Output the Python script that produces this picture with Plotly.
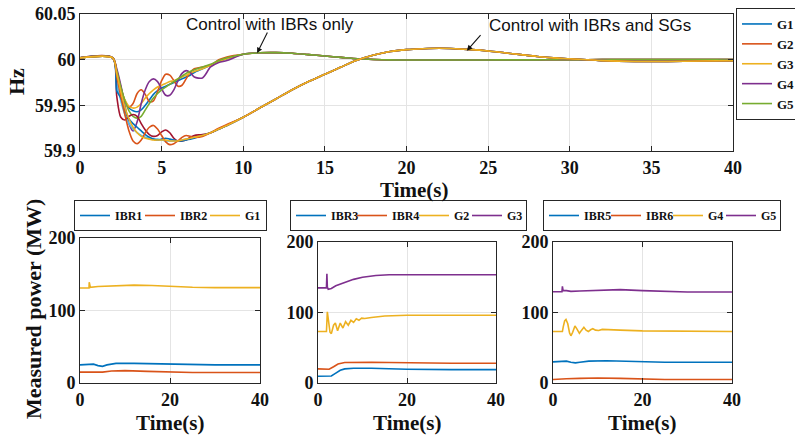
import plotly.graph_objects as go

W, H = 795, 435

# MATLAB-style default colour order
C_BLUE, C_ORANGE, C_YELLOW = "#0072BD", "#D95319", "#EDB120"
C_PURPLE, C_GREEN, C_LBLUE, C_DRED = "#7E2F8E", "#77AC30", "#4DBEEE", "#A2142F"

# ---------------- frequency (Hz) ----------------
t_trans = [0, 2.0, 2.25, 2.5, 2.75, 3.0, 3.25, 3.5, 3.75, 4.0, 4.25, 4.5, 4.75,
           5.0, 5.25, 5.5, 5.75, 6.0, 6.25, 6.5, 6.75, 7.0, 7.5, 8.0, 8.5, 9.0]
t_tail = [10, 11, 12, 13, 14, 15, 16, 17, 18, 19, 20, 21, 22, 23, 24, 25, 26,
          27, 28, 29, 30, 32, 34, 36, 38, 40]

# Control with IBRs only
ibr_g1 = [60.002, 60.002, 59.985, 59.968, 59.955, 59.947, 59.944, 59.943, 59.945, 59.95, 59.956, 59.962, 59.966,
          59.969, 59.971, 59.973, 59.975, 59.977, 59.979, 59.981, 59.983, 59.986, 59.99, 59.994, 59.998, 60.001]
ibr_g2 = [60.002, 60.002, 59.988, 59.97, 59.955, 59.948, 59.952, 59.963, 59.967, 59.962, 59.954, 59.955, 59.965,
          59.977, 59.984, 59.983, 59.977, 59.971, 59.972, 59.979, 59.986, 59.99, 59.992, 59.994, 60.0, 60.003]
ibr_g3 = [60.002, 60.002, 59.985, 59.968, 59.956, 59.949, 59.947, 59.948, 59.952, 59.958, 59.963, 59.967, 59.970,
          59.972, 59.974, 59.976, 59.977, 59.979, 59.981, 59.983, 59.985, 59.987, 59.99, 59.994, 59.998, 60.001]
ibr_g4 = [60.002, 60.002, 59.99, 59.972, 59.95, 59.93, 59.922, 59.932, 59.952, 59.967, 59.976, 59.979, 59.976,
          59.968, 59.961, 59.961, 59.967, 59.977, 59.985, 59.988, 59.986, 59.981, 59.980, 59.992, 59.997, 59.999]
ibr_g5 = [60.002, 60.002, 59.988, 59.97, 59.955, 59.944, 59.938, 59.936, 59.938, 59.945, 59.952, 59.958, 59.963,
          59.967, 59.970, 59.973, 59.976, 59.979, 59.982, 59.985, 59.987, 59.989, 59.992, 59.995, 59.999, 60.002]
ibr_tail = [60.006, 60.0075, 60.0077, 60.007, 60.0055, 60.004, 60.0025, 60.001, 60.0002, 59.9998, 59.9996, 59.9996,
            59.9996, 59.9996, 59.9997, 59.9997, 59.9998, 59.9998, 59.9998, 59.9999, 59.9999, 60.0, 60.0, 60.0, 60.0, 60.0]

# Control with IBRs and SGs
sg_c1 = [60.002, 60.002, 59.975, 59.955, 59.94, 59.93, 59.924, 59.92, 59.917, 59.915, 59.914, 59.913, 59.913,
         59.912, 59.911, 59.911, 59.911, 59.911, 59.912, 59.913, 59.914, 59.915, 59.917, 59.92, 59.924, 59.928]
sg_c2 = [60.002, 60.002, 59.96, 59.937, 59.934, 59.938, 59.94, 59.938, 59.93, 59.923, 59.918, 59.916, 59.917,
         59.921, 59.923, 59.92, 59.914, 59.911, 59.911, 59.912, 59.915, 59.917, 59.918, 59.92, 59.924, 59.928]
sg_c3 = [60.002, 60.002, 59.966, 59.958, 59.945, 59.935, 59.93, 59.926, 59.922, 59.918, 59.915, 59.913, 59.912,
         59.913, 59.914, 59.913, 59.912, 59.911, 59.911, 59.912, 59.913, 59.914, 59.917, 59.92, 59.924, 59.928]
sg_c4 = [60.002, 60.002, 59.982, 59.96, 59.94, 59.922, 59.911, 59.908, 59.912, 59.92, 59.926, 59.928, 59.924,
         59.917, 59.91, 59.907, 59.908, 59.911, 59.915, 59.917, 59.916, 59.915, 59.916, 59.92, 59.925, 59.929]
sg_c5 = [60.002, 60.002, 59.985, 59.965, 59.948, 59.935, 59.926, 59.92, 59.916, 59.914, 59.913, 59.912, 59.912,
         59.912, 59.912, 59.911, 59.911, 59.911, 59.912, 59.913, 59.914, 59.915, 59.917, 59.92, 59.924, 59.928]
sg_tail = [59.937, 59.947, 59.957, 59.967, 59.976, 59.984, 59.992, 59.9995, 60.005, 60.009, 60.011, 60.012, 60.0125,
           60.012, 60.011, 60.0095, 60.0075, 60.0055, 60.0035, 60.002, 60.001, 59.999, 59.998, 59.998, 59.9985, 59.999]

# ---------------- measured power (MW) ----------------
p1_t_ibr1 = [0, 2, 3, 4, 5, 6, 8, 12, 16, 20, 25, 30, 40]
p1_ibr1 = [25, 25, 26, 24, 23, 25, 27, 27, 26.5, 25.5, 25, 25, 25]
p1_t_ibr2 = [0, 2, 3, 4, 5, 7, 10, 15, 20, 25, 40]
p1_ibr2 = [15, 15, 16, 15.5, 15, 16.5, 17, 16, 15, 14.5, 14.5]
p1_t_g1 = [0, 2.0, 2.05, 2.15, 2.3, 4, 8, 12, 16, 20, 25, 30, 40]
p1_g1 = [131, 131, 139, 132, 132, 133, 134.5, 135, 134.5, 133, 132, 131.5, 131.5]

p2_t_ibr3 = [0, 2, 3, 4, 5, 6, 8, 12, 16, 20, 30, 40]
p2_ibr3 = [9.5, 9.5, 10, 14, 18, 20, 21, 21, 20, 19.5, 19, 19]
p2_t_ibr4 = [0, 2, 2.5, 3.5, 4.5, 6, 8, 12, 16, 20, 30, 40]
p2_ibr4 = [20, 20, 19.5, 23, 27, 29, 29.5, 29.5, 29, 28.5, 28, 28]
p2_t_g2 = [0, 1.9, 2.1, 2.4, 2.7, 3.0, 3.5, 3.9, 4.4, 5.0, 5.6, 6.2, 6.8, 7.4, 8.0, 8.6, 9.2, 9.8, 10.5, 12, 15, 20, 30, 40]
p2_g2 = [73, 73, 101, 85, 72, 70, 82, 85, 74, 85, 78, 87, 82, 89, 86, 91, 89, 92, 91.5, 93, 95, 96, 96, 96]
p2_t_g3 = [0, 1.9, 2.0, 2.1, 2.3, 3, 4, 6, 8, 10, 13, 16, 20, 30, 40]
p2_g3 = [135, 135, 155, 136, 133, 134, 138, 143, 147, 150, 152.5, 153.5, 153.5, 153.5, 153.5]

p3_t_ibr5 = [0, 2, 3, 4, 5, 6, 8, 12, 16, 20, 25, 40]
p3_ibr5 = [30, 30, 31, 29.5, 28.5, 29.5, 31, 31.5, 31, 30, 29.5, 29.5]
p3_t_ibr6 = [0, 2, 3, 6, 10, 15, 20, 25, 40]
p3_ibr6 = [5, 5, 6, 6.5, 7, 6.5, 5.5, 5, 5]
p3_t_g4 = [0, 2.1, 2.3, 2.6, 2.9, 3.3, 3.7, 4.0, 4.4, 4.9, 5.4, 5.9, 6.4, 6.9, 7.4, 7.9, 8.4, 8.9, 9.5, 10.2, 11, 12, 15, 20, 30, 40]
p3_g4 = [73, 73, 80, 88, 90, 84, 71, 67, 72, 81, 76, 70.5, 75, 79, 75, 73, 75.5, 77, 75, 74.5, 76, 75.5, 75, 74, 73, 73]
p3_t_g5 = [0, 2.0, 2.1, 2.25, 3, 4, 6, 10, 15, 20, 25, 30, 40]
p3_g5 = [129.5, 129.5, 137, 131, 131, 130, 130.5, 131.5, 132.5, 131, 130, 129, 129]

SERIF = "Liberation Serif"
SANS = "Liberation Sans"
AX = "#262626"

fig = go.Figure()

t_full = t_trans + t_tail
ibr_sets = [("G1", ibr_g1, C_BLUE), ("G2", ibr_g2, C_ORANGE), ("G3", ibr_g3, C_YELLOW),
            ("G4", ibr_g4, C_PURPLE), ("G5", ibr_g5, C_GREEN)]
for name, vals, col in ibr_sets:
    fig.add_trace(go.Scatter(x=t_full, y=vals + ibr_tail, name=name, mode="lines",
                             line=dict(color=col, width=1.6, shape="spline", smoothing=0.8),
                             xaxis="x", yaxis="y", legend="legend"))

sg_sets = [(sg_c1, C_LBLUE), (sg_c2, C_DRED), (sg_c3, C_BLUE), (sg_c4, C_ORANGE), (sg_c5, C_YELLOW)]
for vals, col in sg_sets:
    fig.add_trace(go.Scatter(x=t_full, y=vals + sg_tail, mode="lines", showlegend=False,
                             line=dict(color=col, width=1.6, shape="spline", smoothing=0.8),
                             xaxis="x", yaxis="y"))

# (name, time, values, colour, legend entry width)
panels = [
    ("x2", "y2", "legend2", [("IBR1", p1_t_ibr1, p1_ibr1, C_BLUE, 20), ("IBR2", p1_t_ibr2, p1_ibr2, C_ORANGE, 20),
                             ("G1", p1_t_g1, p1_g1, C_YELLOW, 16)]),
    ("x3", "y3", "legend3", [("IBR3", p2_t_ibr3, p2_ibr3, C_BLUE, 16), ("IBR4", p2_t_ibr4, p2_ibr4, C_ORANGE, 17),
                             ("G2", p2_t_g2, p2_g2, C_YELLOW, 8), ("G3", p2_t_g3, p2_g3, C_PURPLE, 14)]),
    ("x4", "y4", "legend4", [("IBR5", p3_t_ibr5, p3_ibr5, C_BLUE, 17), ("IBR6", p3_t_ibr6, p3_ibr6, C_ORANGE, 17),
                             ("G4", p3_t_g4, p3_g4, C_YELLOW, 8), ("G5", p3_t_g5, p3_g5, C_PURPLE, 14)]),
]
for xa, ya, lg, series in panels:
    for name, tt, vv, col, lw in series:
        fig.add_trace(go.Scatter(x=tt, y=vv, name=name, mode="lines",
                                 line=dict(color=col, width=1.6), legendwidth=lw,
                                 xaxis=xa, yaxis=ya, legend=lg))


def px_x(p):
    return p / W


def px_y(p):
    return 1 - p / H


def axis(domain, rng, tickvals, ticktext, anchor, size=18):
    return dict(domain=domain, range=rng, tickvals=tickvals, ticktext=ticktext, anchor=anchor,
                automargin=False,
                showline=True, mirror="allticks", linecolor=AX, linewidth=1,
                ticks="inside", ticklen=5, tickcolor=AX, tickwidth=1,
                showgrid=True, gridcolor="#e4e4e4", gridwidth=1, zeroline=False,
                tickfont=dict(family=SERIF, size=size, color="#111111", weight="bold"))


x_ticks_top = [0, 5, 10, 15, 20, 25, 30, 35, 40]
layout = dict(
    width=W, height=H, margin=dict(l=0, r=0, t=0, b=0, autoexpand=False),
    paper_bgcolor="white", plot_bgcolor="white", showlegend=True,
    xaxis=axis([px_x(80), px_x(733)], [0, 40], x_ticks_top, [str(v) for v in x_ticks_top], "y"),
    yaxis=axis([px_y(151), px_y(14)], [59.9, 60.05], [59.9, 59.95, 60, 60.05],
               ["59.9", "59.95", "60", "60.05"], "x"),
    xaxis2=axis([px_x(80), px_x(260)], [0, 40], [0, 20, 40], ["0", "20", "40"], "y2"),
    yaxis2=axis([px_y(383), px_y(238)], [0, 200], [0, 100, 200], ["0", "100", "200"], "x2"),
    xaxis3=axis([px_x(318), px_x(496)], [0, 40], [0, 20, 40], ["0", "20", "40"], "y3"),
    yaxis3=axis([px_y(383), px_y(242)], [0, 200], [0, 100, 200], ["0", "100", "200"], "x3"),
    xaxis4=axis([px_x(553), px_x(732)], [0, 40], [0, 20, 40], ["0", "20", "40"], "y4"),
    yaxis4=axis([px_y(383), px_y(242)], [0, 200], [0, 100, 200], ["0", "100", "200"], "x4"),
    legend=dict(xref="container", yref="container", x=px_x(736), y=px_y(8),
                xanchor="left", yanchor="top", orientation="v",
                bgcolor="white", bordercolor=AX, borderwidth=1, tracegroupgap=0,
                font=dict(family=SERIF, size=13, color="#111111", weight="bold")),
)
small_leg = dict(xref="container", yref="container", orientation="h", xanchor="left", yanchor="top",
                 bgcolor="white", bordercolor=AX, borderwidth=1,
                 font=dict(family=SERIF, size=12, color="#111111", weight="bold"))
layout["legend2"] = dict(small_leg, x=px_x(74), y=px_y(200))
layout["legend3"] = dict(small_leg, x=px_x(290), y=px_y(200))
layout["legend4"] = dict(small_leg, x=px_x(543), y=px_y(200))
fig.update_layout(**layout)

ann = [
    dict(text="Hz", x=px_x(17), y=px_y(82), textangle=-90, size=22),
    dict(text="Time(s)", x=px_x(414), y=px_y(190), size=21),
    dict(text="Measured power (MW)", x=px_x(33), y=px_y(309), textangle=-90, size=22),
    dict(text="Time(s)", x=px_x(170), y=px_y(423), size=21),
    dict(text="Time(s)", x=px_x(407), y=px_y(423), size=21),
    dict(text="Time(s)", x=px_x(642), y=px_y(423), size=21),
]
for a in ann:
    sz = a.pop("size")
    fig.add_annotation(xref="paper", yref="paper", showarrow=False, xanchor="center",
                       yanchor="middle", font=dict(family=SERIF, size=sz, color="#111111", weight="bold"),
                       **a)

note_font = dict(family=SANS, size=17, color="#111111")
fig.add_annotation(text="Control with IBRs only", xref="paper", yref="paper",
                   x=px_x(270), y=px_y(24), xanchor="center", yanchor="middle",
                   showarrow=False, font=note_font)
fig.add_annotation(text="Control with IBRs and SGs", xref="paper", yref="paper",
                   x=px_x(590), y=px_y(25), xanchor="center", yanchor="middle",
                   showarrow=False, font=note_font)
# arrows pointing at the two response groups
fig.add_annotation(text="", xref="x", yref="y", x=10.85, y=60.0072, ax=11, ay=-22,
                   showarrow=True, arrowhead=2, arrowsize=1, arrowwidth=1.1, arrowcolor="#111111")
fig.add_annotation(text="", xref="x", yref="y", x=23.7, y=60.0098, ax=15, ay=-17,
                   showarrow=True, arrowhead=2, arrowsize=1, arrowwidth=1.1, arrowcolor="#111111")

fig.write_html("out.html")
